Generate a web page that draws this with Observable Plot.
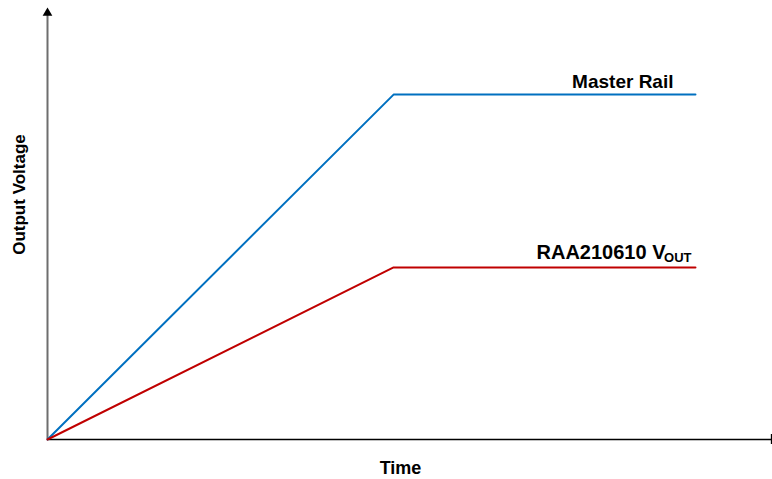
<!DOCTYPE html>
<html>
<head>
<meta charset="utf-8">
<script src="https://cdn.jsdelivr.net/npm/d3@7"></script>
<script src="https://cdn.jsdelivr.net/npm/@observablehq/plot@0.6"></script>
<style>
  html, body { margin: 0; padding: 0; background: #fff; }
  #chart svg { display: block; }
</style>
</head>
<body>
<div id="chart"></div>
<script>
// Data (arbitrary units)
const times = [0, 4.78, 8.95];
const masterRail = [0, 8.04, 8.04];
const raaVout = [0, 4.01, 4.01];
const seriesNames = ["Master Rail", "RAA210610 V"];
const subscript = "OUT";
const xLabel = "Time";
const yLabel = "Output Voltage";
const xMax = 10;
const yMax = 10;

const rows = [];
times.forEach((t, i) => {
  rows.push({series: seriesNames[0], t, v: masterRail[i]});
  rows.push({series: seriesNames[1], t, v: raaVout[i]});
});
const last = times.length - 1;

const font = "'Liberation Sans', Arial, sans-serif";

const chart = Plot.plot({
  width: 772,
  height: 479,
  marginLeft: 47,
  marginRight: 1,
  marginTop: 10,
  marginBottom: 40,
  style: {fontFamily: font, background: "#fff"},
  x: {domain: [0, xMax], axis: null},
  y: {domain: [0, yMax], axis: null},
  color: {domain: seriesNames, range: ["#0070C0", "#C00000"]},
  marks: [
    // y axis (gray) with arrowhead
    Plot.ruleX([0], {y1: 0, y2: yMax, stroke: "#6e6e6e", strokeWidth: 2}),
    Plot.dot([0], {x: 0, y: () => yMax, symbol: "triangle", r: 3.6, fill: "#000", stroke: "none", dy: 2.5}),
    // x axis (black) with end tick
    Plot.ruleY([0], {x1: 0, x2: xMax, stroke: "#000", strokeWidth: 1.3}),
    Plot.ruleX([xMax], {y1: 0, y2: 0, insetTop: -5, insetBottom: -5, stroke: "#000", strokeWidth: 1.3}),
    // series
    Plot.line(rows, {x: "t", y: "v", z: "series", stroke: "series", strokeWidth: 2}),
    // labels
    Plot.text([seriesNames[0]], {x: () => times[last], y: () => masterRail[last], text: d => d,
      textAnchor: "end", lineAnchor: "bottom", dx: -22, dy: -7,
      fontSize: 19, fontWeight: "bold", fill: "#000"}),
    Plot.text([seriesNames[1]], {x: () => times[last], y: () => raaVout[last], text: d => d,
      textAnchor: "end", lineAnchor: "bottom", dx: -30, dy: -8,
      fontSize: 20, fontWeight: "bold", fill: "#000"}),
    Plot.text([subscript], {x: () => times[last], y: () => raaVout[last], text: d => d,
      textAnchor: "end", lineAnchor: "bottom", dx: -4, dy: -5.5,
      fontSize: 13, fontWeight: "bold", fill: "#000"}),
    // axis titles
    Plot.text([xLabel], {frameAnchor: "bottom", text: d => d, lineAnchor: "middle", textAnchor: "middle",
      dx: -9, dy: 29, fontSize: 18, fontWeight: "bold", fill: "#000"}),
    Plot.text([yLabel], {frameAnchor: "left", text: d => d, rotate: -90, lineAnchor: "middle", textAnchor: "middle",
      dx: -28, dy: -30.5, fontSize: 17, fontWeight: "bold", fill: "#000"})
  ]
});
document.getElementById("chart").appendChild(chart);
</script>
</body>
</html>
